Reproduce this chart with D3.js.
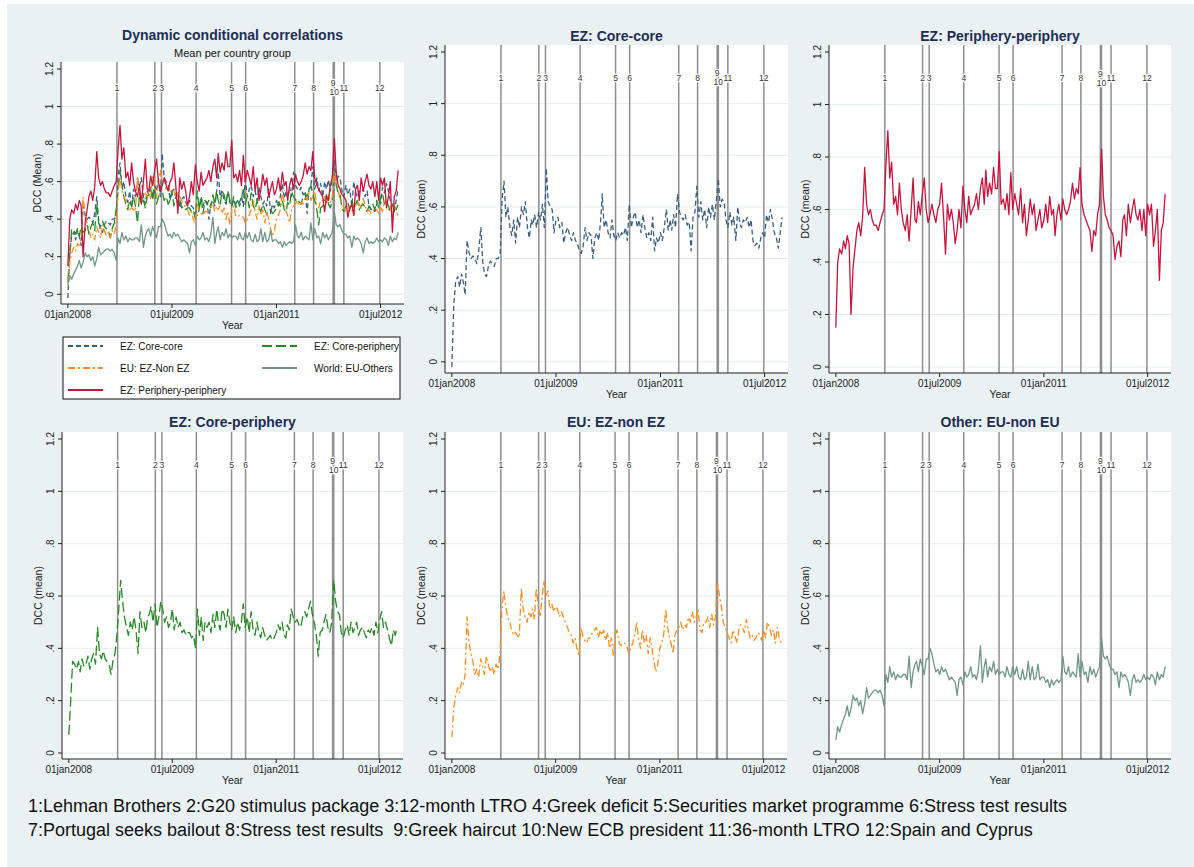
<!DOCTYPE html>
<html lang="en">
<head>
<meta charset="UTF-8">
<title>Dynamic conditional correlations</title>
<script src="https://d3js.org/d3.v7.min.js"></script>
<style>
  body { margin: 0; background: #fff; }
  svg { display: block; font-family: "Liberation Sans", Arial, sans-serif; }
  .title { font-size: 14px; font-weight: bold; fill: #1f2d55; }
  .subtitle { font-size: 11px; fill: #111; }
  .tick-label { font-size: 10px; fill: #222; }
  .axis-title { font-size: 10.5px; fill: #222; }
  .event-label { font-size: 8.5px; fill: #333; stroke: #fff; stroke-width: 2.5px; paint-order: stroke; }
  .legend-text { font-size: 10px; fill: #111; }
  .note { font-size: 18px; fill: #111; white-space: pre; }
</style>
</head>
<body>
<svg width="1194" height="867"></svg>
<script>
const svg = d3.select("svg");

// Mean DCC per country group, three readings per month (1st, 11th, 21st), Jan 2008 - Oct 2012
const slotDays = [1, 11, 21];

const coreCore = [
  -0.02,0.22,0.31, 0.33,0.29,0.34, 0.31,0.26,0.47, 0.42,0.40,0.41, 0.40,0.38,0.43, 0.52,0.39,0.34,
  0.33,0.37,0.39, 0.38,0.37,0.40, 0.40,0.42,0.63, 0.70,0.56,0.60, 0.52,0.49,0.55, 0.46,0.56,0.52,
  0.60,0.57,0.62, 0.52,0.48,0.55, 0.53,0.57,0.52, 0.58,0.55,0.61, 0.52,0.75,0.62, 0.60,0.59,0.50,
  0.55,0.56,0.52, 0.54,0.46,0.50, 0.52,0.49,0.47, 0.50,0.47,0.46, 0.43,0.42,0.45, 0.52,0.47,0.50,
  0.49,0.40,0.48, 0.50,0.47,0.55, 0.65,0.52,0.55, 0.50,0.48,0.55, 0.49,0.47,0.50, 0.48,0.50,0.49,
  0.52,0.47,0.61, 0.52,0.56,0.58, 0.52,0.55,0.50, 0.57,0.52,0.48, 0.50,0.47,0.56, 0.43,0.48,0.46,
  0.50,0.47,0.52, 0.59,0.51,0.55, 0.51,0.57,0.52, 0.65,0.58,0.56, 0.55,0.57,0.53, 0.54,0.43,0.56,
  0.58,0.68,0.56, 0.62,0.55,0.59, 0.52,0.60,0.56, 0.61,0.55,0.62, 0.71,0.60,0.63, 0.62,0.55,0.52,
  0.58,0.53,0.56, 0.47,0.60,0.54, 0.52,0.55,0.54, 0.56,0.52,0.55, 0.47,0.45,0.46, 0.44,0.48,0.50,
  0.48,0.57,0.54, 0.59,0.55,0.50, 0.48,0.44,0.50, 0.56
];

const corePeriphery = [
  0.07,0.20,0.35, 0.34,0.32,0.35, 0.31,0.36,0.33, 0.34,0.37,0.32, 0.36,0.38,0.34, 0.48,0.38,0.36,
  0.39,0.36,0.35, 0.34,0.30,0.35, 0.38,0.45,0.55, 0.66,0.58,0.52, 0.48,0.45,0.50, 0.47,0.52,0.47,
  0.38,0.54,0.48, 0.50,0.46,0.52, 0.53,0.56,0.50, 0.57,0.48,0.52, 0.58,0.55,0.50, 0.52,0.48,0.50,
  0.55,0.47,0.52, 0.48,0.50,0.46, 0.47,0.45,0.46, 0.46,0.44,0.45, 0.40,0.55,0.45, 0.52,0.43,0.50,
  0.48,0.50,0.46, 0.53,0.48,0.55, 0.50,0.47,0.55, 0.53,0.48,0.55, 0.50,0.47,0.52, 0.46,0.50,0.47,
  0.50,0.57,0.48, 0.52,0.46,0.54, 0.47,0.45,0.50, 0.46,0.44,0.48, 0.45,0.43,0.44, 0.45,0.43,0.44,
  0.46,0.49,0.47, 0.50,0.45,0.44, 0.49,0.47,0.55, 0.52,0.50,0.51, 0.49,0.48,0.52, 0.54,0.52,0.55,
  0.58,0.53,0.50, 0.45,0.37,0.46, 0.47,0.50,0.53, 0.48,0.46,0.50, 0.66,0.58,0.54, 0.53,0.46,0.44,
  0.47,0.49,0.45, 0.50,0.46,0.48, 0.50,0.45,0.47, 0.48,0.46,0.44, 0.47,0.46,0.48, 0.45,0.50,0.46,
  0.51,0.54,0.48, 0.50,0.47,0.44, 0.41,0.47,0.45, 0.48
];

const ezNonEz = [
  0.06,0.17,0.22, 0.25,0.23,0.27, 0.26,0.30,0.52, 0.42,0.38,0.35, 0.30,0.32,0.29, 0.36,0.33,0.30,
  0.37,0.34,0.31, 0.33,0.30,0.34, 0.32,0.38,0.55, 0.62,0.56,0.52, 0.50,0.47,0.45, 0.46,0.45,0.44,
  0.63,0.55,0.52, 0.50,0.54,0.52, 0.55,0.51,0.63, 0.56,0.52,0.60, 0.66,0.60,0.62, 0.55,0.57,0.54,
  0.56,0.55,0.52, 0.54,0.52,0.50, 0.48,0.46,0.45, 0.42,0.44,0.40, 0.37,0.48,0.45, 0.43,0.42,0.44,
  0.44,0.46,0.47, 0.48,0.44,0.47, 0.45,0.47,0.43, 0.46,0.40,0.44, 0.37,0.45,0.47, 0.42,0.41,0.42,
  0.42,0.41,0.38, 0.40,0.42,0.45, 0.50,0.44,0.40, 0.47,0.42,0.45, 0.38,0.44,0.40, 0.35,0.31,0.34,
  0.40,0.42,0.45, 0.55,0.48,0.44, 0.42,0.38,0.45, 0.47,0.48,0.50, 0.47,0.49,0.48, 0.52,0.50,0.54,
  0.50,0.52,0.55, 0.47,0.46,0.50, 0.50,0.52,0.48, 0.53,0.49,0.52, 0.65,0.60,0.56, 0.50,0.48,0.46,
  0.44,0.42,0.47, 0.45,0.42,0.47, 0.49,0.48,0.46, 0.51,0.47,0.44, 0.45,0.43,0.44, 0.46,0.45,0.43,
  0.47,0.44,0.50, 0.48,0.45,0.47, 0.42,0.48,0.44, 0.42
];

const euOthers = [
  0.05,0.10,0.08, 0.11,0.13,0.15, 0.18,0.14,0.17, 0.22,0.20,0.21, 0.18,0.20,0.15, 0.19,0.25,0.21,
  0.22,0.23,0.24, 0.24,0.23,0.24, 0.22,0.18,0.30, 0.27,0.33,0.29, 0.31,0.28,0.30, 0.29,0.29,0.30,
  0.30,0.28,0.37, 0.25,0.31,0.34, 0.35,0.31,0.36, 0.33,0.30,0.36, 0.36,0.40,0.38, 0.34,0.31,0.32,
  0.30,0.33,0.31, 0.32,0.30,0.28, 0.29,0.28,0.27, 0.22,0.28,0.29, 0.26,0.31,0.29, 0.30,0.33,0.29,
  0.30,0.28,0.32, 0.41,0.27,0.33, 0.36,0.29,0.33, 0.31,0.35,0.30, 0.32,0.30,0.31, 0.31,0.29,0.33,
  0.30,0.29,0.33, 0.30,0.33,0.29, 0.28,0.32,0.28, 0.29,0.35,0.28, 0.33,0.28,0.29, 0.34,0.28,0.29,
  0.29,0.27,0.28, 0.25,0.28,0.26, 0.27,0.28,0.27, 0.28,0.37,0.31, 0.30,0.33,0.29, 0.31,0.30,0.29,
  0.38,0.29,0.35, 0.30,0.31,0.27, 0.33,0.30,0.32, 0.29,0.31,0.33, 0.44,0.37,0.36, 0.37,0.34,0.32,
  0.32,0.30,0.31, 0.25,0.31,0.29, 0.30,0.29,0.27, 0.22,0.28,0.30, 0.27,0.28,0.27, 0.28,0.30,0.28,
  0.29,0.28,0.30, 0.29,0.26,0.31, 0.28,0.30,0.29, 0.33
];

const peripheryPeriphery = [
  0.15,0.40,0.45, 0.43,0.48,0.45, 0.50,0.47,0.20, 0.38,0.45,0.52, 0.55,0.50,0.57, 0.76,0.62,0.58,
  0.60,0.56,0.54, 0.54,0.52,0.55, 0.58,0.60,0.77, 0.90,0.72,0.78, 0.62,0.65,0.58, 0.70,0.60,0.55,
  0.52,0.58,0.48, 0.60,0.72,0.56, 0.55,0.63,0.58, 0.66,0.72,0.60, 0.55,0.58,0.62, 0.58,0.55,0.60,
  0.62,0.70,0.58, 0.43,0.62,0.56, 0.60,0.55,0.47, 0.52,0.60,0.53, 0.69,0.60,0.55, 0.65,0.58,0.60,
  0.62,0.66,0.60, 0.68,0.72,0.62, 0.75,0.65,0.70, 0.66,0.76,0.68, 0.68,0.82,0.62, 0.64,0.60,0.66,
  0.58,0.74,0.60, 0.66,0.62,0.58, 0.68,0.55,0.62, 0.50,0.56,0.64, 0.58,0.62,0.52, 0.56,0.60,0.53,
  0.56,0.62,0.55, 0.65,0.58,0.60, 0.50,0.58,0.62, 0.56,0.64,0.60, 0.58,0.60,0.63, 0.70,0.64,0.68,
  0.66,0.76,0.62, 0.58,0.56,0.54, 0.52,0.44,0.52, 0.50,0.58,0.62, 0.83,0.65,0.58, 0.56,0.53,0.52,
  0.50,0.41,0.46, 0.48,0.42,0.56, 0.58,0.50,0.62, 0.55,0.60,0.64, 0.58,0.56,0.60, 0.52,0.60,0.50,
  0.62,0.58,0.62, 0.46,0.52,0.60, 0.33,0.52,0.55, 0.66
];

const seriesKeys = ["cc", "cp", "ezn", "oth", "pp"];
const seriesLabels = ["EZ: Core-core", "EZ: Core-periphery", "EU: EZ-Non EZ", "World: EU-Others", "EZ: Periphery-periphery"];

const eventDates = ["2008-09-15", "2009-04-02", "2009-05-07", "2009-11-05", "2010-05-10", "2010-07-23",
                    "2011-04-07", "2011-07-15", "2011-10-26", "2011-11-01", "2011-12-21", "2012-06-27"];
const eventLabels = ["1", "2", "3", "4", "5", "6", "7", "8", "9", "10", "11", "12"];

const yTicks = [0, 0.2, 0.4, 0.6, 0.8, 1, 1.2];
const xTicks = ["2008-01-01", "2009-07-01", "2011-01-01", "2012-07-01"];

const notes = [
  "1:Lehman Brothers 2:G20 stimulus package 3:12-month LTRO 4:Greek deficit 5:Securities market programme 6:Stress test results",
  "7:Portugal seeks bailout 8:Stress test results  9:Greek haircut 10:New ECB president 11:36-month LTRO 12:Spain and Cyprus"
];

// ---- styles ----
const style = {
  cc:  { color: "#3b5f80", dash: "5,3" },
  cp:  { color: "#228b22", dash: "10,4" },
  ezn: { color: "#ff8c1a", dash: "7,3,2,3" },
  oth: { color: "#6f9788", dash: null },
  pp:  { color: "#c8143c", dash: null }
};

const parse = d3.timeParse("%Y-%m-%d");
const values = { cc: coreCore, cp: corePeriphery, ezn: ezNonEz, oth: euOthers, pp: peripheryPeriphery };
const series = {};
seriesKeys.forEach(k => {
  series[k] = values[k].map((v, i) => ({
    date: new Date(2008, Math.floor(i / 3), slotDays[i % 3]),
    value: v
  }));
});
const events = eventDates.map((d, i) => ({ date: parse(d), label: eventLabels[i] }));
const xDomain = [new Date(2007, 10, 26), new Date(2012, 10, 1)];
const fmtX = d => d3.timeFormat("%d%b%Y")(d).toLowerCase();
const fmtY = d => d === 0 ? "0" : String(+d.toFixed(1)).replace(/^0\./, ".");

// background
svg.append("rect").attr("width", 1194).attr("height", 867).attr("fill", "#fff");
svg.append("rect").attr("x", 7).attr("y", 4).attr("width", 1187).attr("height", 863).attr("fill", "#e9f1f3");

const panels = [
  { title: "Dynamic conditional correlations", subtitle: "Mean per country group", ylab: "DCC (Mean)",
    keys: ["cc", "cp", "ezn", "oth", "pp"], x0: 61, x1: 404, y0: 62, y1: 304, titleY: 40, legend: true },
  { title: "EZ: Core-core", ylab: "DCC (mean)", keys: ["cc"], x0: 445, x1: 788, y0: 45, y1: 373, titleY: 41 },
  { title: "EZ: Periphery-periphery", ylab: "DCC (mean)", keys: ["pp"], x0: 829, x1: 1171, y0: 45, y1: 373, titleY: 41 },
  { title: "EZ: Core-periphery", ylab: "DCC (mean)", keys: ["cp"], x0: 62, x1: 403, y0: 432, y1: 759, titleY: 427 },
  { title: "EU: EZ-non EZ", ylab: "DCC (mean)", keys: ["ezn"], x0: 445, x1: 787, y0: 432, y1: 759, titleY: 427 },
  { title: "Other: EU-non EU", ylab: "DCC (mean)", keys: ["oth"], x0: 829, x1: 1171, y0: 432, y1: 759, titleY: 427 }
];

panels.forEach(p => {
  const g = svg.append("g");
  const x = d3.scaleTime().domain(xDomain).range([p.x0, p.x1]);
  const lo = Math.min(0, d3.min(p.keys, k => d3.min(values[k])));
  const y = d3.scaleLinear().domain([lo, 1.2]).range([p.y1 - 6, p.y0 + 7]);
  const midX = (p.x0 + p.x1) / 2;

  g.append("rect")
    .attr("x", p.x0).attr("y", p.y0)
    .attr("width", p.x1 - p.x0).attr("height", p.y1 - p.y0)
    .attr("fill", "#fff");

  // grid
  g.append("g").selectAll("line")
    .data(yTicks.filter(t => t < 1.2))
    .join("line")
    .attr("x1", p.x0).attr("x2", p.x1)
    .attr("y1", d => y(d)).attr("y2", d => y(d))
    .attr("stroke", "#e3ecef").attr("stroke-width", 1);

  // event lines
  g.append("g").selectAll("line")
    .data(events)
    .join("line")
    .attr("x1", d => x(d.date)).attr("x2", d => x(d.date))
    .attr("y1", p.y0).attr("y2", p.y1)
    .attr("stroke", "#8e8e8e").attr("stroke-width", 1.5);

  // series
  p.keys.forEach(k => {
    g.append("path")
      .datum(series[k])
      .attr("fill", "none")
      .attr("stroke", style[k].color)
      .attr("stroke-width", 1.3)
      .attr("stroke-dasharray", style[k].dash)
      .attr("stroke-linejoin", "round")
      .attr("d", d3.line().x(d => x(d.date)).y(d => y(d.value)));
  });

  // event labels
  g.append("g").selectAll("text")
    .data(events)
    .join("text")
    .attr("class", "event-label")
    .attr("x", d => x(d.date))
    .attr("y", d => y(1.1) + (d.label === "9" ? -4.5 : d.label === "10" ? 4.5 : 0))
    .attr("dy", "0.35em")
    .attr("text-anchor", "middle")
    .text(d => d.label);

  // axes
  g.append("line").attr("x1", p.x0).attr("x2", p.x0).attr("y1", p.y0).attr("y2", p.y1).attr("stroke", "#222");
  g.append("line").attr("x1", p.x0).attr("x2", p.x1).attr("y1", p.y1).attr("y2", p.y1).attr("stroke", "#222");

  const yt = g.append("g").selectAll("g").data(yTicks).join("g")
    .attr("transform", d => `translate(${p.x0},${y(d)})`);
  yt.append("line").attr("x1", -4).attr("x2", 0).attr("stroke", "#222");
  yt.append("text")
    .attr("class", "tick-label")
    .attr("transform", "rotate(-90)")
    .attr("x", 0).attr("y", -8)
    .attr("text-anchor", "middle")
    .text(fmtY);

  const xt = g.append("g").selectAll("g").data(xTicks.map(parse)).join("g")
    .attr("transform", d => `translate(${x(d)},${p.y1})`);
  xt.append("line").attr("y1", 0).attr("y2", 4).attr("stroke", "#222");
  xt.append("text")
    .attr("class", "tick-label")
    .attr("y", 14)
    .attr("text-anchor", "middle")
    .text(fmtX);

  g.append("text").attr("class", "axis-title")
    .attr("x", midX).attr("y", p.y1 + 25)
    .attr("text-anchor", "middle").text("Year");

  g.append("text").attr("class", "axis-title")
    .attr("transform", `translate(${p.x0 - 20},${(p.y0 + p.y1) / 2}) rotate(-90)`)
    .attr("text-anchor", "middle").text(p.ylab);

  g.append("text").attr("class", "title")
    .attr("x", midX).attr("y", p.titleY)
    .attr("text-anchor", "middle").text(p.title);

  if (p.subtitle) {
    g.append("text").attr("class", "subtitle")
      .attr("x", midX).attr("y", p.titleY + 17)
      .attr("text-anchor", "middle").text(p.subtitle);
  }

  if (p.legend) {
    const lg = svg.append("g").attr("transform", "translate(63,337)");
    lg.append("rect").attr("width", 337).attr("height", 62)
      .attr("fill", "#fff").attr("stroke", "#111").attr("stroke-width", 1);
    const items = lg.selectAll("g").data(seriesKeys).join("g")
      .attr("transform", (d, i) => `translate(${(i % 2) * 194},${9 + Math.floor(i / 2) * 22})`);
    items.append("line")
      .attr("x1", 5).attr("x2", 40)
      .attr("stroke", d => style[d].color)
      .attr("stroke-width", 2)
      .attr("stroke-dasharray", d => style[d].dash);
    items.append("text").attr("class", "legend-text")
      .attr("x", 57).attr("dy", "0.35em")
      .text((d, i) => seriesLabels[i]);
  }
});

// notes under the panels
svg.append("g").selectAll("text")
  .data(notes)
  .join("text")
  .attr("class", "note")
  .attr("x", 28)
  .attr("y", (d, i) => 812 + i * 24)
  .text(d => d);
</script>
</body>
</html>
